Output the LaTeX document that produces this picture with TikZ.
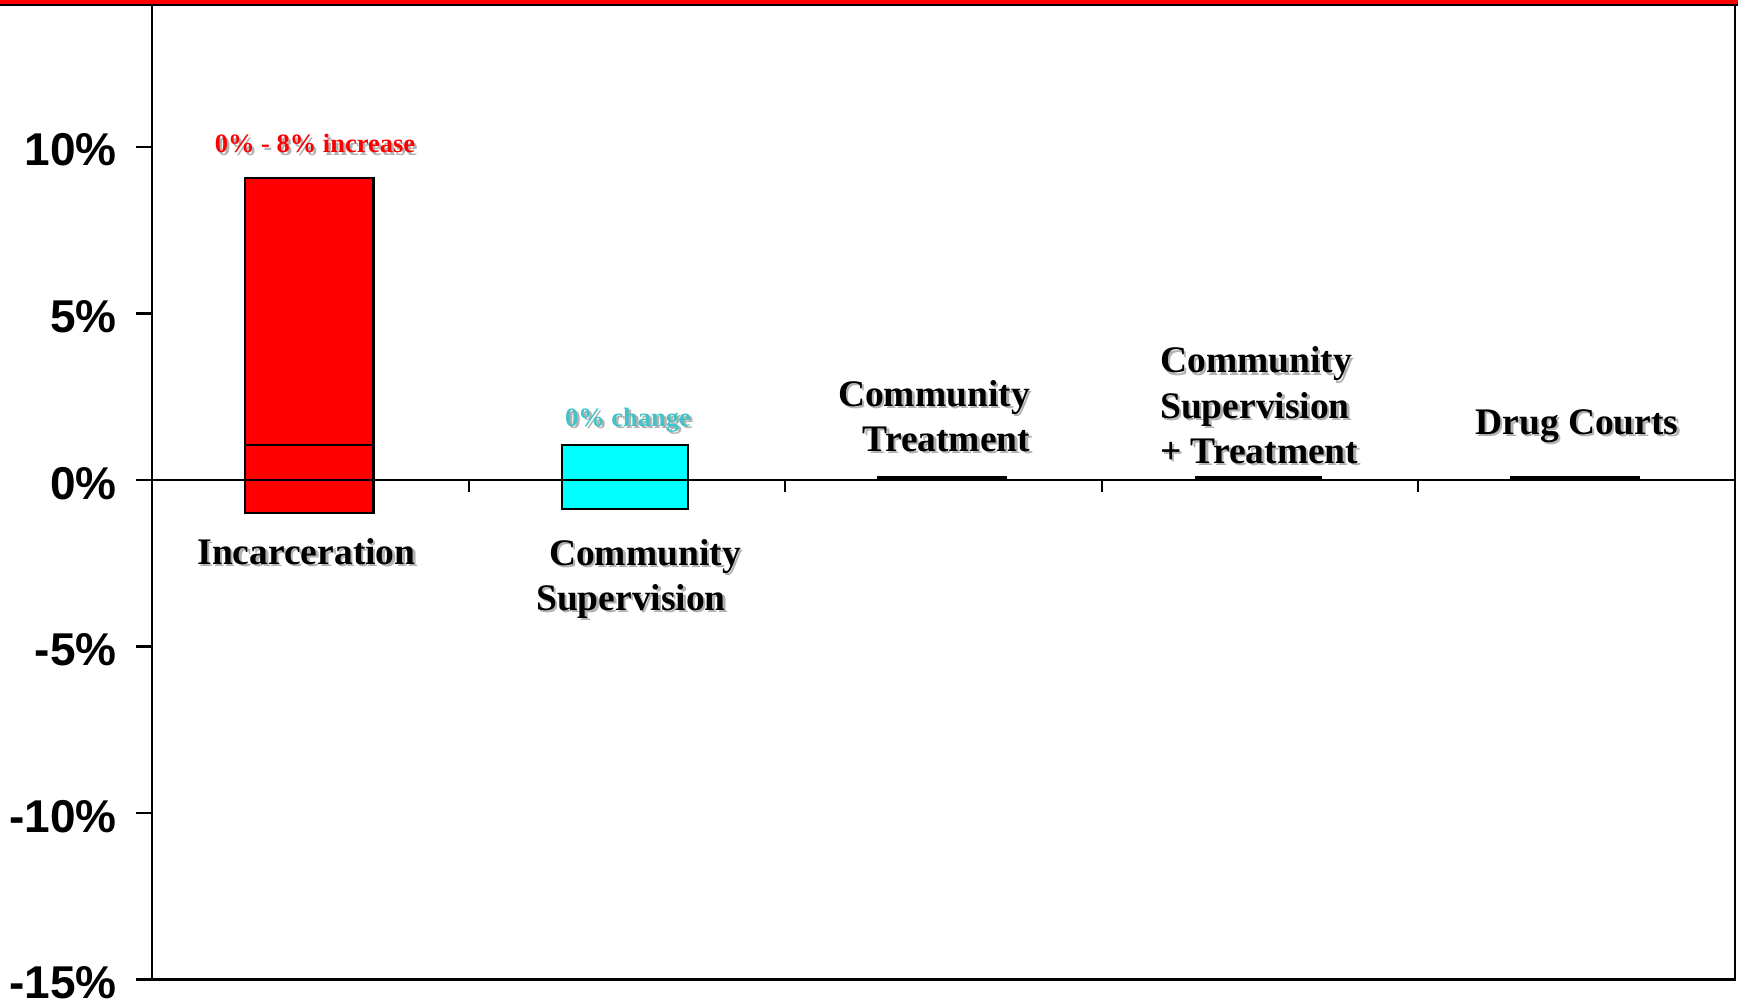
\documentclass[tikz,border=0pt]{standalone}
\usepackage{fontspec}
\setmainfont{Liberation Serif}
\newfontfamily\arialfont{Liberation Sans}
\definecolor{slidered}{RGB}{255,0,0}
\definecolor{boxcyan}{RGB}{0,255,255}
\definecolor{notecyan}{RGB}{64,196,200}
\newcommand{\shadowtext}[1]{\rlap{\kern2.5pt\raisebox{-2.5pt}{\textcolor{black!30}{#1}}}#1}
\begin{document}
\begin{tikzpicture}[x=1pt,y=1pt,
    every node/.style={inner sep=0pt},
    catlabel/.style={anchor=base,font=\fontsize{37.5}{44}\selectfont\bfseries},
    notelabel/.style={anchor=base,font=\fontsize{26.5}{30}\selectfont\bfseries},
    ylabel/.style={anchor=base east,font=\arialfont\fontsize{46}{50}\selectfont\bfseries},
    axisline/.style={black,line width=2.2pt},
    barbox/.style={black,line width=2.6pt},
    zerobar/.style={black,line width=5pt}]
  \useasboundingbox (0,0) rectangle (1738,-1008);
  % slide band
  \fill [slidered] (0,0) rectangle (1738,-4.5);
  \draw [black,line width=2pt] (0,-5.5) -- (1738,-5.5);
  % frame
  \draw [axisline] (152,-5.5) -- (152,-979.5) -- (1735,-979.5) -- (1735,-5.5);
  % y ticks and labels
  \foreach \v/\txt [count=\i] in {10/10\%,5/5\%,0/0\%,-5/-5\%,-10/-10\%,-15/-15\%} {
    \draw [axisline] (136,{-480+33.3*\v}) -- (152,{-480+33.3*\v});
    \node [ylabel] (ytick\i) at (117,{-499+33.3*\v}) {\txt};
  }
  % bars
  \draw [barbox,fill=slidered] (245,-178) rectangle (373.5,-513);
  \draw [barbox] (245,-445) -- (373.5,-445);
  \draw [barbox,fill=boxcyan] (562,-445) rectangle (688,-509);
  \draw [zerobar] (877,-478) -- (1007,-478);
  \draw [zerobar] (1195,-478) -- (1322,-478);
  \draw [zerobar] (1510,-478) -- (1640,-478);
  % zero line and category ticks
  \draw [axisline] (136,-480) -- (1735,-480);
  \foreach \x in {469,785,1102,1418}
    \draw [axisline] (\x,-480) -- (\x,-492);
  % notes
  \node [notelabel,text=slidered] (incnote) at (315,-153) {\shadowtext{0\% - 8\% increase}};
  \node [notelabel,text=notecyan] (supnote) at (628,-426) {\shadowtext{0\% change}};
  % category labels
  \node [catlabel] (inc) at (306.5,-564) {\shadowtext{Incarceration}};
  \node [catlabel] (supA) at (645,-565) {\shadowtext{Community}};
  \node [catlabel] (supB) at (631,-610) {\shadowtext{Supervision}};
  \node [catlabel] (treA) at (934,-406) {\shadowtext{Community}};
  \node [catlabel] (treB) at (946.5,-451) {\shadowtext{Treatment}};
  \node [catlabel,anchor=base west] (bothA) at (1160,-373) {\shadowtext{Community}};
  \node [catlabel,anchor=base west] (bothB) at (1160,-418) {\shadowtext{Supervision}};
  \node [catlabel,anchor=base west] (bothC) at (1160,-463) {\shadowtext{+ Treatment}};
  \node [catlabel] (court) at (1577,-434) {\shadowtext{Drug Courts}};
\end{tikzpicture}
\end{document}
